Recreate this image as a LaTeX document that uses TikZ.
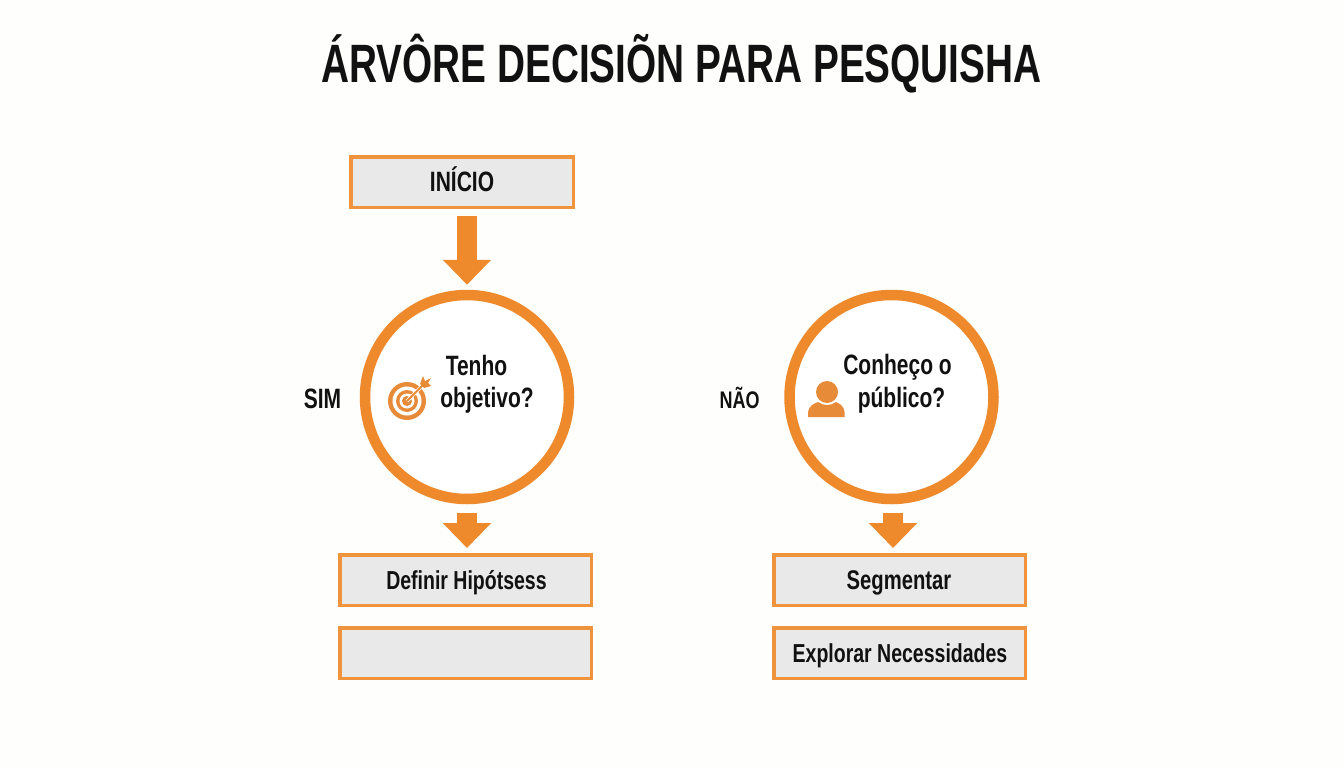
\documentclass[tikz,border=0pt]{standalone}
\usepackage{fontspec}
\setmainfont[FakeStretch=0.75]{Liberation Sans}
\newfontfamily\titlefont[FakeStretch=0.718]{Liberation Sans}
\usetikzlibrary{arrows.meta}
\definecolor{org}{HTML}{EE8A2C}
\definecolor{orgicon}{HTML}{E88B38}
\definecolor{boxgray}{HTML}{E9E9E9}
\definecolor{ink}{HTML}{111111}
\definecolor{paper}{HTML}{FEFEFD}
\tikzset{
  x=1pt,y=-1pt,
  txt/.style={anchor=base,text=ink,font=\bfseries\fontsize{#1}{#1}\selectfont,inner sep=0pt},
  boxw/.style={draw=org!92!white,line width=3.5pt,fill=boxgray,minimum height=50.5pt,inner sep=0pt},
  qcircle/.style={circle,draw=org,line width=10.5pt,fill=white,minimum size=204pt,inner sep=0pt},
  blockarrow/.style={draw=org,line width=20pt,-{Triangle[length=25pt,width=47pt]}},
  icon/.style={fill=orgicon,draw=none},
}
\begin{document}
\begin{tikzpicture}
\useasboundingbox (0,0) rectangle (1344,768);
\fill[paper] (0,0) rectangle (1344,768);
\node[anchor=base,text=ink,inner sep=0pt,font=\titlefont\bfseries\fontsize{54}{54}\selectfont] (title) at (681.5,82) {ÁRVÔRE DECISIÕN PARA PESQUISHA};

\node[boxw,minimum width=222.5pt] (inicio) at (462,182) {};
\node[qcircle] (q1) at (467,397) {};
\node[qcircle] (q2) at (891.5,397) {};
\node[boxw,minimum width=251.5pt] (b1) at (465.5,580) {};
\node[boxw,minimum width=251.5pt] (b2) at (465.5,653) {};
\node[boxw,minimum width=251.5pt] (b3) at (899.5,580) {};
\node[boxw,minimum width=251.5pt] (b4) at (899.5,653) {};

\node[txt=28] (t0) at (462,191) {INÍCIO};
\node[txt=26] (t3) at (466.5,589) {Definir Hipótsess};
\node[txt=27] (t4) at (899,589) {Segmentar};
\node[txt=26] (t5) at (900,662) {Explorar Necessidades};

\draw[blockarrow,shorten <=7pt,shorten >=5pt] (q1.north |- inicio.south) -- (q1.north);
\draw[blockarrow,shorten <=9pt,shorten >=5pt] (q1.south) -- (q1.south |- b1.north);
\draw[blockarrow,shorten <=9pt,shorten >=5pt,transform canvas={xshift=1.5pt}] (q2.south) -- (q2.south |- b3.north);

\node[txt=28] (sim) at (322.5,408) {SIM};
\node[txt=24] (nao) at (739.5,408) {NÃO};
\node[txt=28] (t1a) at (476.5,375) {Tenho};
\node[txt=28] (t1b) at (487,407) {objetivo?};
\node[txt=28] (t2a) at (897.5,374) {Conheço o};
\node[txt=28] (t2b) at (901.5,407) {público?};

% target icon
\fill[icon] (407,401) circle (19);
\fill[white] (407,401) circle (14.5);
\fill[icon] (407,401) circle (11);
\fill[white] (407,401) circle (7.5);
\fill[icon] (407,401) circle (5);
\draw[white,line width=3.2pt] (407,401) -- (424,384);
\draw[orgicon,line width=1.8pt] (407,401) -- (424,384);
\fill[icon] (420,384) -- (423,376) -- (425,381) -- (431,378) -- (428,383) -- (431,386) -- (424,388) -- cycle;

% person icon
\fill[icon] (827,392) circle (11);
\fill[icon] (808,417) -- (808,412) .. controls (809,406) and (813,404) .. (818,402) .. controls (823,406) and (831,406) .. (836,402) .. controls (841,404) and (844,407) .. (844.5,412) -- (844.5,417) -- cycle;
\end{tikzpicture}
\end{document}
